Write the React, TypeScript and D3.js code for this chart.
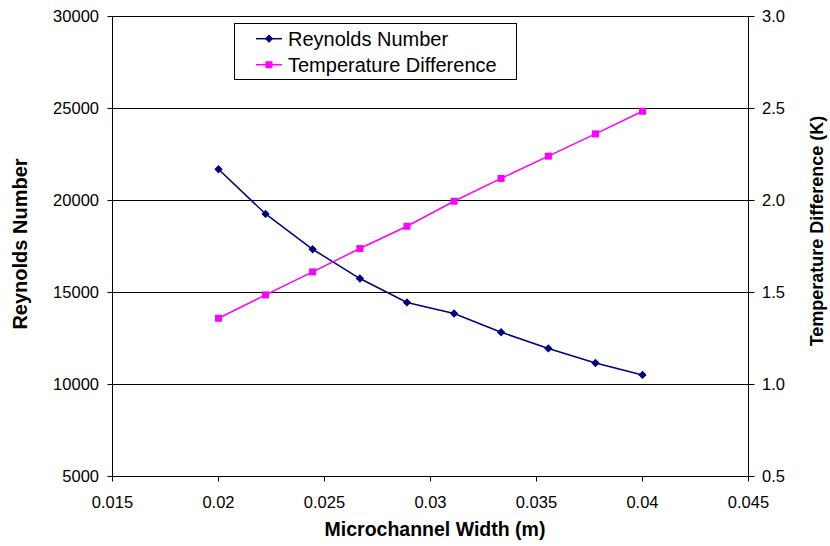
import React from "react";
import * as d3 from "d3";

const widths = [0.02, 0.02222, 0.02444, 0.02667, 0.02889, 0.03111, 0.03333, 0.03556, 0.03778, 0.04];
const reynolds = [21700, 19270, 17350, 15760, 14460, 13860, 12840, 11960, 11170, 10520];
const tempDiff = [1.36, 1.487, 1.612, 1.739, 1.86, 1.996, 2.12, 2.241, 2.362, 2.485];
const xTicks = [0.015, 0.02, 0.025, 0.03, 0.035, 0.04, 0.045];
const leftTicks = [5000, 10000, 15000, 20000, 25000, 30000];
const rightTicks = [0.5, 1.0, 1.5, 2.0, 2.5, 3.0];
const seriesNames = ["Reynolds Number", "Temperature Difference"];

const W = 830;
const H = 546;
const L = 112.5, R = 748.5, T = 16.5, B = 476.5;
const FONT = "'Liberation Sans', Arial, Helvetica, sans-serif";
const NAVY = "#000080";
const MAG = "#FF00FF";

export default function App() {
  const x = d3.scaleLinear().domain([0.015, 0.045]).range([L, R]);
  const yL = d3.scaleLinear().domain([5000, 30000]).range([B, T]);
  const yR = d3.scaleLinear().domain([0.5, 3.0]).range([B, T]);

  const lineRe = d3.line<number>().x((_, i) => x(widths[i])).y((d) => yL(d));
  const lineT = d3.line<number>().x((_, i) => x(widths[i])).y((d) => yR(d));

  const diamond = d3.symbol().type(d3.symbolSquare).size(24)();
  const legendY = [38.7, 64.7];

  return (
    <div style={{ position: "absolute", left: 0, top: 0 }}>
      <svg width={W} height={H} viewBox={`0 0 ${W} ${H}`} style={{ display: "block", background: "#fff" }} fontFamily={FONT}>
        <rect x={0} y={0} width={W} height={H} fill="#fff" />
        {/* gridlines */}
        {leftTicks.map((t) => (
          <line key={"g" + t} x1={L} x2={R} y1={yL(t)} y2={yL(t)} stroke="#000" strokeWidth={1} />
        ))}
        {/* axes */}
        <line x1={L} x2={L} y1={T} y2={B} stroke="#000" strokeWidth={1} />
        <line x1={R} x2={R} y1={T} y2={B} stroke="#000" strokeWidth={1} />
        <line x1={L} x2={R} y1={B} y2={B} stroke="#000" strokeWidth={1} />
        {/* left ticks */}
        {leftTicks.map((t) => (
          <g key={"l" + t}>
            <line x1={L - 5} x2={L} y1={yL(t)} y2={yL(t)} stroke="#000" />
            <text x={99} y={yL(t)} dy="0.35em" textAnchor="end" fontSize={16.5} fill="#000">{t}</text>
          </g>
        ))}
        {/* right ticks */}
        {rightTicks.map((t) => (
          <g key={"r" + t}>
            <line x1={R} x2={R + 6} y1={yR(t)} y2={yR(t)} stroke="#000" />
            <text x={762} y={yR(t)} dy="0.35em" textAnchor="start" fontSize={16.5} fill="#000">{t.toFixed(1)}</text>
          </g>
        ))}
        {/* bottom ticks */}
        {xTicks.map((t) => (
          <g key={"x" + t}>
            <line x1={x(t)} x2={x(t)} y1={B} y2={B + 5} stroke="#000" />
            <text x={x(t)} y={508} textAnchor="middle" fontSize={16.5} fill="#000">{String(t)}</text>
          </g>
        ))}
        {/* series */}
        <path d={lineRe(reynolds) || ""} fill="none" stroke={NAVY} strokeWidth={1.5} />
        <path d={lineT(tempDiff) || ""} fill="none" stroke={MAG} strokeWidth={1.5} />
        {reynolds.map((d, i) => (
          <path key={"rm" + i} d={diamond || ""} transform={`translate(${x(widths[i])},${yL(d)}) rotate(45)`} fill={NAVY} stroke={NAVY} strokeWidth={1} />
        ))}
        {tempDiff.map((d, i) => (
          <rect key={"tm" + i} x={x(widths[i]) - 3.5} y={yR(d) - 3.5} width={7} height={7} fill={MAG} />
        ))}
        {/* titles */}
        <text x={435} y={536} textAnchor="middle" fontSize={19.5} fontWeight="bold" fill="#000">Microchannel Width (m)</text>
        <text transform={`translate(27,244) rotate(-90)`} textAnchor="middle" fontSize={20} fontWeight="bold" fill="#000">Reynolds Number</text>
        <text transform={`translate(823,231) rotate(-90)`} textAnchor="middle" fontSize={18} fontWeight="bold" fill="#000">Temperature Difference (K)</text>
        {/* legend */}
        <rect x={234.5} y={23.5} width={282} height={56} fill="#fff" stroke="#000" strokeWidth={1} />
        <line x1={256} x2={282} y1={legendY[0]} y2={legendY[0]} stroke={NAVY} strokeWidth={1.5} />
        <path d={diamond || ""} transform={`translate(269,${legendY[0]}) rotate(45)`} fill={NAVY} stroke={NAVY} />
        <text x={288} y={legendY[0]} dy="0.35em" fontSize={20} fill="#000">{seriesNames[0]}</text>
        <line x1={256} x2={282} y1={legendY[1]} y2={legendY[1]} stroke={MAG} strokeWidth={1.5} />
        <rect x={265.5} y={legendY[1] - 3.5} width={7} height={7} fill={MAG} />
        <text x={288} y={legendY[1]} dy="0.35em" fontSize={20} fill="#000">{seriesNames[1]}</text>
      </svg>
    </div>
  );
}
